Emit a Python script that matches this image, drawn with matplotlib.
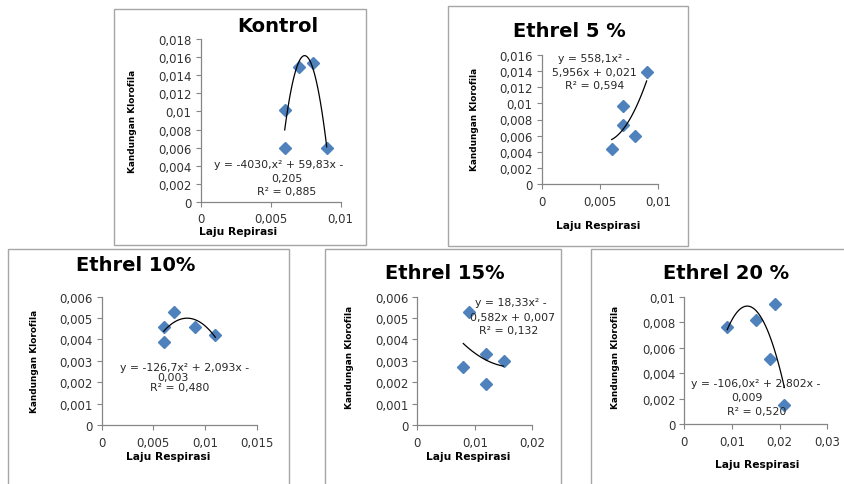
import numpy as np
import matplotlib
matplotlib.use("Agg")
import matplotlib.pyplot as plt
from matplotlib.patches import Rectangle
from matplotlib.ticker import FuncFormatter
from matplotlib import font_manager as fm

# ---------------- data ----------------
titles = ["Kontrol", "Ethrel 5 %", "Ethrel 10%", "Ethrel 15%", "Ethrel 20 %"]
xlabels = ["Laju Repirasi", "Laju Respirasi", "Laju Respirasi", "Laju Respirasi", "Laju Respirasi"]
ylabel_text = "Kandungan Klorofila"

kontrol_x = [0.006, 0.006, 0.007, 0.008, 0.009]
kontrol_y = [0.0102, 0.0059, 0.0149, 0.0154, 0.0059]
e5_x = [0.006, 0.007, 0.007, 0.008, 0.009]
e5_y = [0.0044, 0.0097, 0.0073, 0.0059, 0.0139]
e10_x = [0.006, 0.006, 0.007, 0.009, 0.011]
e10_y = [0.0046, 0.0039, 0.0053, 0.0046, 0.0042]
e15_x = [0.008, 0.009, 0.012, 0.012, 0.015]
e15_y = [0.0027, 0.0053, 0.0033, 0.0019, 0.0030]
e20_x = [0.009, 0.015, 0.018, 0.019, 0.021]
e20_y = [0.0076, 0.0082, 0.0051, 0.0094, 0.0015]

kontrol_eq = ["y = -4030,x² + 59,83x -", "0,205", "R² = 0,885"]
e5_eq = ["y = 558,1x² -", "5,956x + 0,021", "R² = 0,594"]
e10_eq = ["y = -126,7x² + 2,093x -", "0,003", "R² = 0,480"]
e15_eq = ["y = 18,33x² -", "0,582x + 0,007", "R² = 0,132"]
e20_eq = ["y = -106,0x² + 2,802x -", "0,009", "R² = 0,520"]

kontrol_xticks = [0, 0.005, 0.01]
kontrol_yticks = [0, 0.002, 0.004, 0.006, 0.008, 0.01, 0.012, 0.014, 0.016, 0.018]
e5_xticks = [0, 0.005, 0.01]
e5_yticks = [0, 0.002, 0.004, 0.006, 0.008, 0.01, 0.012, 0.014, 0.016]
e10_xticks = [0, 0.005, 0.01, 0.015]
e10_yticks = [0, 0.001, 0.002, 0.003, 0.004, 0.005, 0.006]
e15_xticks = [0, 0.01, 0.02]
e15_yticks = [0, 0.001, 0.002, 0.003, 0.004, 0.005, 0.006]
e20_xticks = [0, 0.01, 0.02, 0.03]
e20_yticks = [0, 0.002, 0.004, 0.006, 0.008, 0.01]

# ---------------- layout (pixels) ----------------
W, H = 844, 485
fig = plt.figure(figsize=(W / 100, H / 100), dpi=100)
fig.patch.set_facecolor("white")

def P(x, y):
    return x / W, 1 - y / H

names = {f.name for f in fm.fontManager.ttflist}
if "Liberation Sans Narrow" in names:
    yl_family, yl_size = "Liberation Sans Narrow", 8.6
else:
    yl_family, yl_size = "DejaVu Sans", 6.4

BORDER = "#a6a6a6"
AXC = "#868686"
TXT = "#262626"
MARK = "#4F81BD"

boxes = [(114, 10, 366, 246), (448, 7, 688, 247), (8, 250, 289, 492),
         (325, 250, 561, 492), (591, 250, 852, 492)]
for (x0, y0, x1, y1) in boxes:
    fig.patches.append(Rectangle(P(x0, y1), (x1 - x0) / W, (y1 - y0) / H,
                                 transform=fig.transFigure, fill=False,
                                 edgecolor=BORDER, linewidth=1.0))

panels = [
    dict(x=kontrol_x, y=kontrol_y, xt=kontrol_xticks, yt=kontrol_yticks, eq=kontrol_eq,
         ax=(200.7, 340.7, 202.7, 40.3), title=(278, 26),
         eqpos=[(278.3, 165), (286.7, 179), (286.7, 192.3)],
         ylab=(132.7, 121), xlab=(238.3, 232.3)),
    dict(x=e5_x, y=e5_y, xt=e5_xticks, yt=e5_yticks, eq=e5_eq,
         ax=(541.7, 658.3, 185, 56), title=(569, 31.7),
         eqpos=[(594.3, 59.3), (594.3, 72.7), (594.3, 86)],
         ylab=(474.3, 119), xlab=(598.3, 226)),
    dict(x=e10_x, y=e10_y, xt=e10_xticks, yt=e10_yticks, eq=e10_eq,
         ax=(101.7, 256.7, 426, 297.7), title=(135.8, 265.7),
         eqpos=[(185, 368.3), (173.3, 378.3), (180, 388.3)],
         ylab=(34.3, 361), xlab=(168.3, 456.7)),
    dict(x=e15_x, y=e15_y, xt=e15_xticks, yt=e15_yticks, eq=e15_eq,
         ax=(417.3, 532.3, 426, 297.7), title=(444.7, 273.3),
         eqpos=[(510.7, 303.3), (512, 317.7), (509, 331)],
         ylab=(349.3, 357.5), xlab=(468.3, 456.7)),
    dict(x=e20_x, y=e20_y, xt=e20_xticks, yt=e20_yticks, eq=e20_eq,
         ax=(684.3, 827.3, 425.3, 297.7), title=(726, 273.3),
         eqpos=[(755.3, 384.3), (747, 398.3), (756.7, 411.7)],
         ylab=(616, 357.5), xlab=(756.7, 465)),
]

def fmt(v, pos=None):
    v = round(v, 6)
    if v == 0:
        return "0"
    s = f"{v:.4f}".rstrip("0").rstrip(".")
    return s.replace(".", ",")

for i, p in enumerate(panels):
    l, r, b, t = p["ax"]
    ax = fig.add_axes([l / W, 1 - b / H, (r - l) / W, (b - t) / H])
    ax.set_facecolor("none")
    x = np.array(p["x"]); y = np.array(p["y"])
    coef = np.polyfit(x, y, 2)
    xs = np.linspace(x.min(), x.max(), 100)
    ax.plot(xs, np.polyval(coef, xs), color="black", lw=0.9, zorder=3)
    ax.plot(x, y, linestyle="none", marker="D", markersize=6.5,
            color=MARK, markeredgecolor=MARK, zorder=2)
    ax.set_xlim(p["xt"][0], p["xt"][-1])
    ax.set_ylim(p["yt"][0], p["yt"][-1])
    ax.set_xticks(p["xt"]); ax.set_yticks(p["yt"])
    ax.xaxis.set_major_formatter(FuncFormatter(fmt))
    ax.yaxis.set_major_formatter(FuncFormatter(fmt))
    for s in ["top", "right"]:
        ax.spines[s].set_visible(False)
    for s in ["left", "bottom"]:
        ax.spines[s].set_color(AXC)
        ax.spines[s].set_linewidth(0.9)
    ax.tick_params(direction="out", length=3.6, width=0.8, color=AXC,
                   labelsize=8.5, labelcolor="#333333")
    ax.tick_params(axis="x", pad=4.0)
    ax.tick_params(axis="y", pad=3.0)
    ax.set_clip_on(False)

    fig.text(*P(*p["title"]), titles[i], ha="center", va="center",
             fontsize=14, fontweight="bold", color="black", family="DejaVu Sans")
    for line, pos in zip(p["eq"], p["eqpos"]):
        fig.text(*P(*pos), line, ha="center", va="center", fontsize=7.8,
                 color=TXT, family="DejaVu Sans")
    fig.text(*P(*p["ylab"]), ylabel_text, ha="center", va="center", rotation=90,
             fontsize=yl_size, fontweight="bold", color="black", family=yl_family)
    fig.text(*P(*p["xlab"]), xlabels[i], ha="center", va="center",
             fontsize=7.7, fontweight="bold", color="black", family="DejaVu Sans")

fig.savefig("out.png", dpi=100, facecolor="white")
